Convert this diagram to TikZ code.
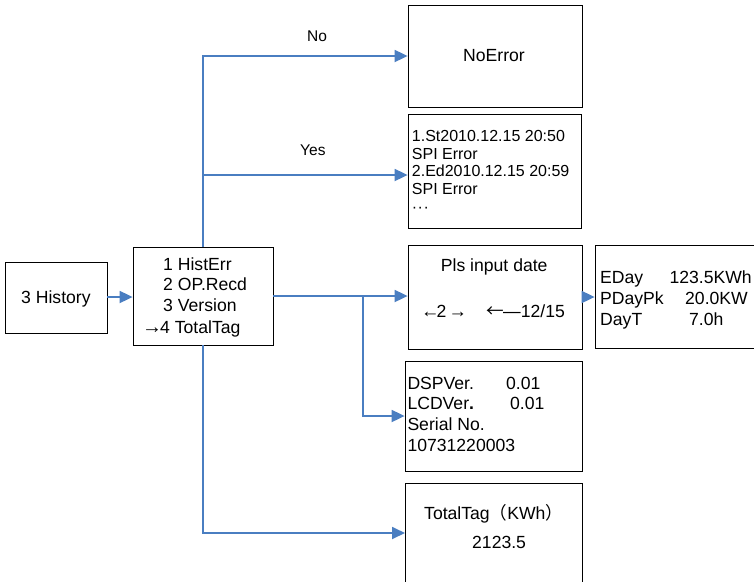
\documentclass[tikz,border=0pt]{standalone}
\usepackage{fontspec}
\setmainfont{Liberation Sans}
\newfontfamily\cjkfont{Noto Sans CJK SC}
\usetikzlibrary{arrows.meta}
\definecolor{lineblue}{RGB}{74,126,193}
\begin{document}
\begin{tikzpicture}[x=1pt,y=-1pt,
  box/.style={draw=black,line width=0.8pt,inner sep=0pt},
  conn/.style={draw=lineblue,line width=1.8pt,-{Triangle[length=13pt,width=12pt]}},
  txt/.style={inner sep=0pt,anchor=base west,font=\fontsize{17.6}{21}\selectfont},
  small/.style={inner sep=0pt,anchor=base west,font=\fontsize{16}{17.5}\selectfont},
  lbl/.style={inner sep=0pt,anchor=base west,font=\fontsize{15.5}{18}\selectfont}]
\useasboundingbox (0,0) rectangle (754,581);
\fill[white] (0,0) rectangle (754,581);
\begin{scope}
\clip (0,0) rectangle (754,581);
% boxes
\node[box,minimum width=102pt,minimum height=71pt] (hist) at (56,297.5) {};
\node[box,minimum width=140pt,minimum height=98pt] (menu) at (203,296) {};
\node[box,minimum width=174pt,minimum height=102pt] (noerr) at (495,56) {};
\node[box,minimum width=173pt,minimum height=114pt] (errl) at (494.5,171) {};
\node[box,minimum width=174pt,minimum height=104pt] (pls) at (495,297) {};
\node[box,minimum width=175pt,minimum height=103pt] (day) at (682.5,297) {};
\node[box,minimum width=177pt,minimum height=110pt] (ver) at (493.5,416) {};
\node[box,minimum width=177pt,minimum height=117pt] (tot) at (493.5,541.5) {};
% connectors
\coordinate (ha) at (107,297);
\coordinate (yesp) at (203,175);
\coordinate (br) at (363,296);
\coordinate (totin) at (405,533);
\draw[conn] (ha) -- (ha -| menu.west);
\draw[conn] (menu.north) |- (noerr.west);
\draw[conn] (yesp) -- (yesp -| errl.west);
\draw[conn] (menu.east) -- (menu.east -| pls.west);
\draw[conn] (br) |- (ver.west);
\draw[conn] (menu.south) |- (totin);
\draw[conn] (pls.east) -- (pls.east -| day.west);
% labels
\node[lbl] (no) at (307,41.7) {No};
\node[lbl] (yes) at (300,155) {Yes};
% texts
\node[txt] (th) at (21,303) {3 History};
\node[txt] (m1) at (163,270) {1 HistErr};
\node[txt] (m2) at (163,290.7) {2 OP.Recd};
\node[txt] (m3) at (163,311) {3 Version};
\node[txt] (m4a) at (142,333.3) {\fontsize{20}{20}\selectfont →};
\node[txt] (m4) at (160,333.3) {4 TotalTag};
\node[txt] (tn) at (463,61) {NoError};
\node[small] (e1) at (411.7,141.7) {1.St2010.12.15 20:50};
\node[small] (e2) at (411.7,159.2) {SPI Error};
\node[small] (e3) at (411.7,176.7) {2.Ed2010.12.15 20:59};
\node[small] (e4) at (411.7,194.2) {SPI Error};
\node[small] (e5) at (411.7,212) {\textperiodcentered\kern0.5pt\textperiodcentered\kern0.5pt\textperiodcentered};
\node[txt] (p1) at (440.7,271) {Pls input date};
\node[txt] (p2a) at (421,317) {\fontsize{18.5}{18.5}\selectfont ←};
\node[txt] (p2) at (436.5,317) {2};
\node[txt] (p2b) at (448.5,317) {\fontsize{18.5}{18.5}\selectfont →};
\node[txt] (p3a) at (486,317) {\cjkfont ←};
\node[txt] (p3) at (503,317) {—12/15};
\node[txt] (d1) at (600,283) {EDay};
\node[txt] (d1v) at (669.3,283) {123.5KWh};
\node[txt] (d2) at (600,304) {PDayPk};
\node[txt] (d2v) at (685,304) {20.0KW};
\node[txt] (d3) at (600,325) {DayT};
\node[txt] (d3v) at (689,325) {7.0h};
\node[txt] (v1) at (407.3,389) {DSPVer.};
\node[txt] (v1v) at (506,389) {0.01};
\node[txt] (v2) at (407.3,409.5) {LCDVer{\bfseries .}};
\node[txt] (v2v) at (510,409.5) {0.01};
\node[txt] (v3) at (407.3,430) {Serial No.};
\node[txt] (v4) at (407.3,451.7) {10731220003};
\node[txt] (t1) at (424,519) {TotalTag{\cjkfont （}KWh{\cjkfont ）}};
\node[txt] (t2) at (472,548) {2123.5};
\end{scope}
\end{tikzpicture}
\end{document}
